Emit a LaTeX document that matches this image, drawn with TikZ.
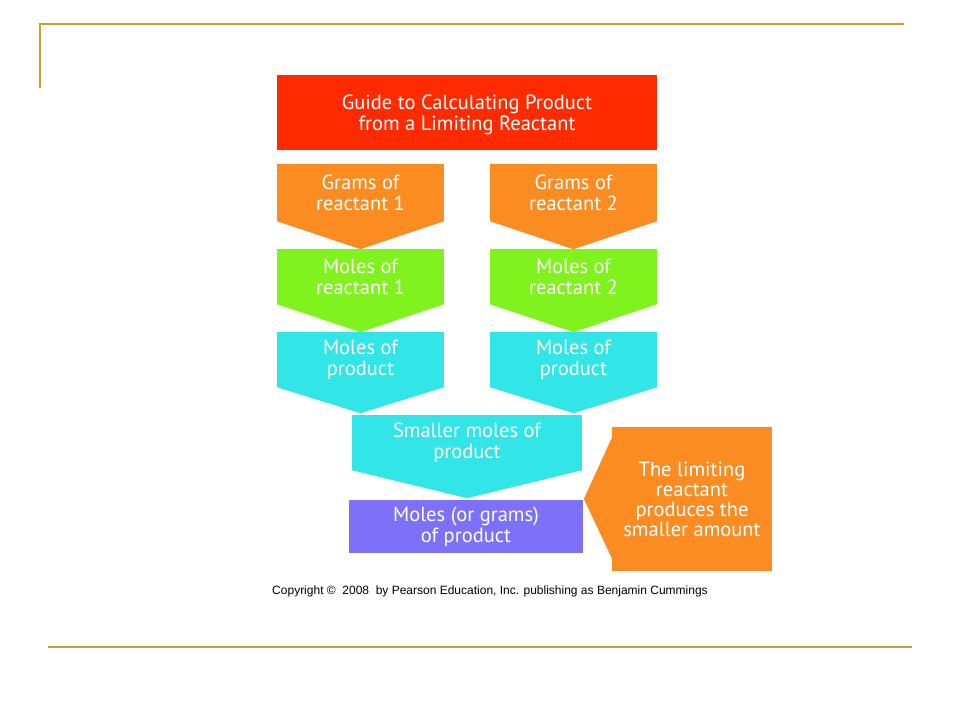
\documentclass[tikz,border=0pt]{standalone}
\usepackage{fontspec}
\setmainfont{PT Sans}
\newfontfamily\arialfont{Liberation Sans}
\definecolor{titlered}{RGB}{255,42,0}
\definecolor{gramsorange}{RGB}{250,140,34}
\definecolor{molesgreen}{RGB}{128,242,30}
\definecolor{prodcyan}{RGB}{50,230,232}
\definecolor{resultpurple}{RGB}{125,113,250}
\definecolor{topgold}{RGB}{201,162,39}
\definecolor{bottomgold}{RGB}{184,165,58}
\tikzset{
  box/.style={inner sep=0pt, align=center, text=white, font=\fontsize{20.5}{21}\selectfont},
  boxsize/.style 2 args={minimum width=#1pt, minimum height=#2pt},
}
\begin{document}
\begin{tikzpicture}[x=1pt,y=-1pt]
    \useasboundingbox (0,0) rectangle (960,720);
    \draw[line width=2pt, topgold] (40,88) -- (40,24) -- (904,24);
    \draw[line width=2pt, bottomgold] (48,647) -- (912,647);
    \fill[titlered] (277,75) rectangle (657,150);
    \node[box] (title) at (467,115) {Guide to Calculating Product\\from a Limiting Reactant};
    \node[box, boxsize={167}{57}, fill=gramsorange] (grams1) at (360.5,192.5) {Grams of\\reactant 1};
    \node[box, boxsize={167}{57}, fill=gramsorange] (grams2) at (573.5,192.5) {Grams of\\reactant 2};
    \node[box, boxsize={167}{55}, fill=molesgreen] (moles1) at (360.5,276.5) {Moles of\\reactant 1};
    \node[box, boxsize={167}{55}, fill=molesgreen] (moles2) at (573.5,276.5) {Moles of\\reactant 2};
    \node[box, boxsize={167}{55}, fill=prodcyan] (prod1) at (360.5,359.5) {Moles of\\product};
    \node[box, boxsize={167}{55}, fill=prodcyan] (prod2) at (573.5,359.5) {Moles of\\product};
    \node[box, boxsize={230}{55}, fill=prodcyan] (smaller) at (467,442.5) {Smaller moles of\\product};
    \node[box, boxsize={234}{53}, fill=resultpurple] (result) at (466,526.5) {Moles (or grams)\\of product};
    \node[box, boxsize={160}{144}, fill=gramsorange, font=\fontsize{20.5}{20}\selectfont] (note) at (692,499) {The limiting\\reactant\\produces the\\smaller amount};
    \foreach \n/\c/\d in {grams1/gramsorange/28, grams2/gramsorange/28, moles1/molesgreen/28, moles2/molesgreen/28, prod1/prodcyan/26, prod2/prodcyan/26, smaller/prodcyan/28}
        \fill[\c] (\n.south west) -- (\n.south east) -- ([yshift=-\d pt]\n.south) -- cycle;
    \coordinate (notetip) at ([xshift=-28pt]note.west);
    \fill[gramsorange] ([yshift=-11pt]note.north west) -- (notetip) -- ([yshift=13pt]note.south west) -- cycle;
    \node[font=\arialfont\fontsize{12}{14}\selectfont, inner sep=0pt] (copyright) at (490,591) {Copyright \textcopyright\ \ 2008\ \ by Pearson Education, Inc. publishing as Benjamin Cummings};
\end{tikzpicture}
\end{document}
